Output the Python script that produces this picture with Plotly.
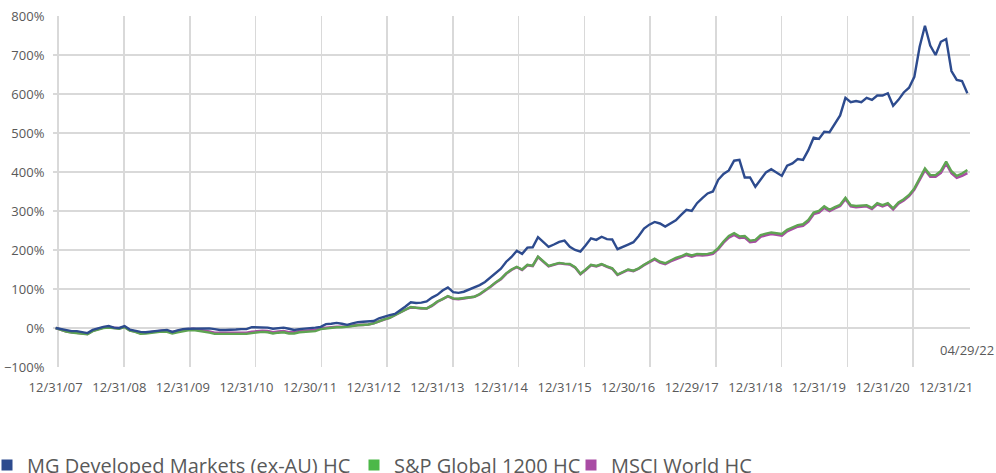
import pandas as pd
import plotly.graph_objects as go

# ---- data -------------------------------------------------------------
try:
    month_ends = pd.date_range("2007-12-31", "2022-04-29", freq="BME")
except Exception:
    month_ends = pd.date_range("2007-12-31", "2022-04-29", freq="BM")
categories = list(month_ends.strftime("%m/%d/%y"))

tick_labels = ["12/31/07", "12/31/08", "12/31/09", "12/31/10", "12/30/11",
               "12/31/12", "12/31/13", "12/31/14", "12/31/15", "12/30/16",
               "12/29/17", "12/31/18", "12/31/19", "12/31/20", "12/31/21"]
end_label = "04/29/22"

mg_dm = [
    0, -3, -6, -8, -8, -11, -13, -5, 0, 3, 5, 1,
    0, 5, -4, -7, -10, -11, -9, -8, -6, -5, -10, -6,
    -3, -2, -2, -1, -2, -1, -3, -5, -5, -5, -4, -3,
    -3, 2, 2, 2, 1, -2, 0, 1, -2, -5, -3, -2,
    0, 1, 3, 10, 11, 13, 11, 8, 12, 15, 16, 17,
    18, 25, 30, 33, 36, 45, 55, 66, 64, 65, 68, 78,
    85, 96, 104, 92, 90, 93, 98, 104, 110, 118, 129, 140,
    152, 170, 182, 198, 190, 206, 207, 233, 220, 208, 214, 221,
    224, 208, 200, 196, 212, 230, 226, 234, 228, 227, 202, 209,
    214, 220, 236, 255, 265, 272, 268, 260, 269, 276, 290, 303,
    300, 320, 333, 345, 350, 380, 395, 404, 429, 431, 386, 386,
    362, 380, 399, 407, 398, 390, 416, 422, 433, 431, 456, 488,
    485, 503, 502, 525, 545, 590, 579, 582, 579, 590, 585, 596,
    596, 602, 570, 585, 604, 616, 644, 721, 775, 724, 700, 734,
    741, 659, 636, 633, 602,
]

sp_global = [
    0, -5, -9, -12, -13, -14, -16, -8, -3, 0, 1, -1,
    -2, 2, -7, -10, -15, -14, -12, -11, -9, -10, -14, -11,
    -8, -6, -5, -7, -9, -12, -15, -15, -14, -14, -15, -15,
    -15, -13, -12, -10, -11, -14, -12, -11, -14, -14, -11, -10,
    -8, -8, -3, -1, 1, 2, 2, 3, 5, 7, 8, 9,
    12, 18, 22, 26, 33, 40, 48, 54, 52, 51, 50, 58,
    68, 74, 82, 76, 75, 77, 79, 80, 87, 96, 106, 117,
    126, 140, 150, 157, 150, 162, 160, 183, 172, 159, 163, 167,
    165, 164, 156, 139, 150, 162, 159, 164, 158, 153, 137, 144,
    150, 147, 153, 162, 170, 178, 170, 166, 173, 180, 184, 190,
    186, 190, 189, 190, 193, 205, 222, 236, 243, 235, 236, 224,
    226, 238, 242, 245, 243, 241, 252, 258, 264, 266, 277, 296,
    300, 312, 303, 310, 316, 334, 315, 313, 314, 315, 308, 320,
    315, 320, 307, 322, 330, 341, 358, 385, 409, 392, 392, 403,
    427, 402, 390, 396, 405,
]

msci_world = [
    0, -5, -9, -11, -12, -14, -15, -7, -2, 1, 2, 0,
    -1, 3, -6, -9, -13, -12, -10, -9, -7, -7, -11, -8,
    -5, -3, -2, -4, -6, -9, -12, -12, -11, -11, -12, -12,
    -12, -10, -9, -7, -8, -11, -9, -8, -11, -11, -8, -7,
    -5, -5, -1, 1, 2, 3, 3, 4, 6, 8, 8, 9,
    12, 18, 22, 26, 32, 40, 47, 53, 52, 50, 50, 57,
    67, 73, 81, 75, 74, 76, 78, 80, 86, 95, 105, 116,
    125, 139, 149, 156, 149, 161, 159, 182, 171, 158, 162, 166,
    164, 163, 155, 138, 149, 161, 158, 163, 157, 152, 136, 143,
    149, 146, 152, 161, 168, 176, 168, 164, 171, 177, 181, 187,
    183, 187, 186, 187, 190, 202, 219, 232, 239, 231, 232, 220,
    222, 234, 238, 241, 239, 237, 248, 254, 260, 262, 273, 292,
    296, 308, 300, 307, 313, 331, 312, 310, 311, 312, 305, 317,
    312, 317, 304, 319, 327, 338, 355, 381, 405, 388, 388, 398,
    422, 397, 385, 390, 397,
]

series_names = ["MG Developed Markets (ex-AU) HC", "S&P Global 1200 HC", "MSCI World HC"]
line_colors = ["#2d4b8e", "#5fa452", "#a94ca4"]
legend_colors = ["#2d4b8e", "#4cb848", "#a94ca4"]

# ---- figure -----------------------------------------------------------
W, H = 996, 473
ML, MR, MT, MB = 53, 26, 16, 106
plot_w = W - ML - MR
plot_h = H - MT - MB
FONT = "Open Sans"
TXT = "#595959"
GRID = "#d9d9d9"

fig = go.Figure()

# draw purple first, then green on top, then blue
fig.add_trace(go.Scatter(x=categories, y=msci_world, mode="lines",
                         line=dict(color=line_colors[2], width=2.6),
                         showlegend=False, hoverinfo="skip"))
fig.add_trace(go.Scatter(x=categories, y=sp_global, mode="lines",
                         line=dict(color=line_colors[1], width=2.4),
                         showlegend=False, hoverinfo="skip"))
fig.add_trace(go.Scatter(x=categories, y=mg_dm, mode="lines",
                         line=dict(color=line_colors[0], width=2.4),
                         showlegend=False, hoverinfo="skip"))

# legend entries with square keys
legend_widths = [322, 172, 150]
for name, col, lw in zip(series_names, legend_colors, legend_widths):
    fig.add_trace(go.Scatter(x=[None], y=[None], mode="markers", name=name,
                             marker=dict(symbol="square", size=11, color=col),
                             legendwidth=lw, hoverinfo="skip"))

# helper trace for the vertical grid overlay axis
fig.add_trace(go.Scatter(x=[None], y=[None], xaxis="x2", showlegend=False,
                         hoverinfo="skip"))

fig.add_annotation(x=categories[-1], y=-57, text=end_label, showarrow=False,
                   xanchor="center", yanchor="middle",
                   font=dict(family=FONT, size=13, color=TXT))

grid_start = (124 - ML) / 65.76
grid_end = (W - MR - 124) / 65.76

fig.update_layout(
    width=W, height=H,
    margin=dict(l=ML, r=MR, t=MT, b=MB, pad=0, autoexpand=False),
    paper_bgcolor="white", plot_bgcolor="white",
    font=dict(family=FONT, size=13, color=TXT),
    xaxis=dict(type="category", categoryorder="array", categoryarray=categories,
               range=[-0.5, len(categories) - 0.5],
               tickmode="array", tickvals=tick_labels, ticktext=tick_labels,
               showgrid=False, zeroline=False, showline=False,
               ticks="outside", ticklen=8, tickcolor="rgba(0,0,0,0)",
               tickangle=0, ticklabeloverflow="allow",
               tickfont=dict(family=FONT, size=13, color=TXT)),
    xaxis2=dict(overlaying="x", range=[-grid_start, grid_end], tick0=0, dtick=1,
                showgrid=True, gridcolor=GRID, gridwidth=1.5,
                showticklabels=False, zeroline=False, showline=False, ticks=""),
    yaxis=dict(range=[-100, 800], dtick=100, tick0=0, ticksuffix="%",
               showgrid=True, gridcolor=GRID, gridwidth=1.5,
               zeroline=False, showline=False,
               ticks="outside", ticklen=5, tickcolor="rgba(0,0,0,0)",
               ticklabeloverflow="allow",
               tickfont=dict(family=FONT, size=13, color=TXT)),
    showlegend=True,
    legend=dict(orientation="h", xref="paper", yref="paper",
                x=(-13 - ML) / plot_w, xanchor="left",
                y=-(465 - (H - MB)) / plot_h, yanchor="middle",
                font=dict(family=FONT, size=20, color=TXT),
                itemwidth=30, bgcolor="rgba(0,0,0,0)", borderwidth=0,
                tracegroupgap=0),
)

# remove the default page margin so the figure fills the window exactly
fig.write_html("out.html",
               config={"displayModeBar": False, "staticPlot": True},
               post_script="document.body.style.margin='0';"
                           "document.body.style.overflow='hidden';")
